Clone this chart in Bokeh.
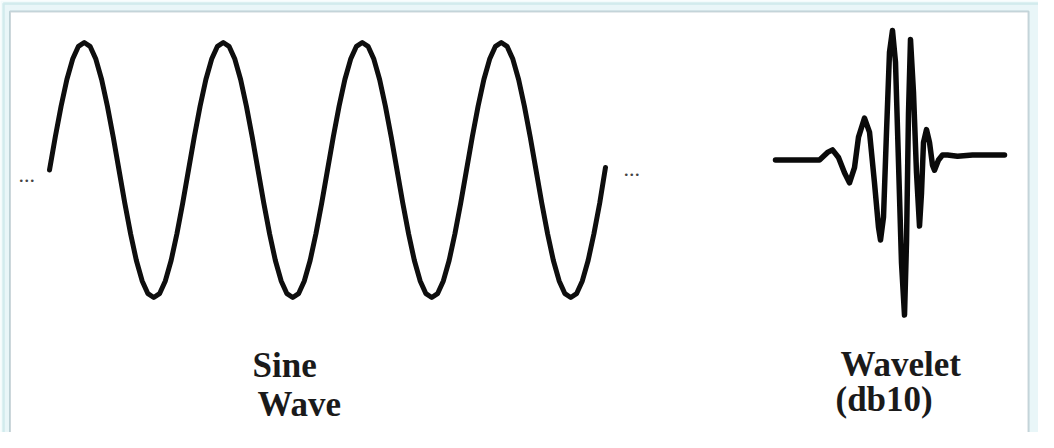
from bokeh.plotting import figure
from bokeh.models import Range1d, BoxAnnotation, ColumnDataSource
from bokeh.core.properties import value
from bokeh.embed import file_html
from bokeh.resources import INLINE

# ---- data ----
# one cycle of the sine wave, sampled every 1/24 of a period (amplitude units)
sine_cycle = [0.0, 0.26, 0.5, 0.71, 0.87, 0.97, 1.0, 0.97, 0.87, 0.71, 0.5, 0.26,
              0.0, -0.26, -0.5, -0.71, -0.87, -0.97, -1.0, -0.97, -0.87, -0.71, -0.5, -0.26]
sine_cycles = 4
sine_values = sine_cycle * sine_cycles + [0.02]
sine_phase = [k / len(sine_cycle) for k in range(len(sine_values))]  # in cycles

# db10 wavelet trace (time in samples, amplitude units)
wavelet_t = [0, 17, 32, 44, 52, 57, 63, 69, 74, 79, 83, 89, 94, 99, 103, 105, 108,
             111, 114, 117, 120, 123, 126, 129, 131, 133, 135, 138, 141, 144, 146,
             148, 151, 154, 157, 159, 163, 167, 172, 182, 197, 229]
wavelet_v = [-0.02, -0.02, -0.02, -0.02, 0.04, 0.06, 0.0, -0.12, -0.20, -0.08, 0.16,
             0.31, 0.20, -0.20, -0.55, -0.65, -0.47, 0.20, 0.83, 1.00, 0.75, -0.04,
             -0.83, -1.24, -0.67, 0.35, 0.93, 0.51, -0.12, -0.54, -0.28, 0.12, 0.22,
             0.12, -0.06, -0.10, -0.02, 0.02, 0.02, 0.01, 0.02, 0.02]

labels = ["Sine", "Wave", "Wavelet", "(db10)"]

# ---- figure ----
W, H = 1038, 432
p = figure(width=W, height=H, output_backend="svg", toolbar_location=None,
           x_range=Range1d(0, W), y_range=Range1d(H, 0),
           min_border=0, min_border_left=0, min_border_right=0,
           min_border_top=0, min_border_bottom=0)
p.axis.visible = False
p.grid.visible = False
p.outline_line_color = None
p.background_fill_color = "#f3fbfc"
p.border_fill_color = "#f3fbfc"

# frames
p.add_layout(BoxAnnotation(left=3, right=1060, top=3, bottom=460, level="underlay",
                           fill_color="#e9f6f8", fill_alpha=1.0,
                           line_color="#93cccf", line_width=2.5))
p.add_layout(BoxAnnotation(left=9.5, right=1028, top=11, bottom=438, level="underlay",
                           fill_color="#ffffff", fill_alpha=1.0,
                           line_color="#557a88", line_width=2))

# sine scales: x in cycles, y in amplitude
px_per_cycle = 139.0
sine_x0 = 49.0
sine_yc, sine_amp = 169.5, 127.5
p.extra_x_ranges["sine_x"] = Range1d(-sine_x0 / px_per_cycle, (W - sine_x0) / px_per_cycle)
p.extra_y_ranges["sine_y"] = Range1d(-(H - sine_yc) / sine_amp, sine_yc / sine_amp)

# wavelet scales
wav_x0 = 775.0
wav_yc, wav_amp = 157.0, 127.0
p.extra_x_ranges["wav_x"] = Range1d(-wav_x0, W - wav_x0)
p.extra_y_ranges["wav_y"] = Range1d(-(H - wav_yc) / wav_amp, wav_yc / wav_amp)

p.line(sine_phase, sine_values, x_range_name="sine_x", y_range_name="sine_y",
       line_color="#0e0e0e", line_width=5, line_join="round", line_cap="round")
p.line(wavelet_t, wavelet_v, x_range_name="wav_x", y_range_name="wav_y",
       line_color="#0a0a0a", line_width=5.5, line_join="round", line_cap="round")

# labels
src = ColumnDataSource(dict(x=[252, 257, 840, 835], y=[365, 404, 364, 399], t=labels))
p.text(x="x", y="y", text="t", source=src, text_font=value("Liberation Serif"),
       text_font_size="35px", text_font_style="bold", text_color="#1a1a1a",
       text_baseline="alphabetic", text_align="left")

# continuation dots
dots = ColumnDataSource(dict(x=[18, 623], y=[174, 168], t=["...", "..."]))
p.text(x="x", y="y", text="t", source=dots, text_font=value("Liberation Serif"),
       text_font_size="22px", text_color="#444444",
       text_baseline="alphabetic", text_align="left")

open("out.html", "w").write(file_html(p, INLINE))
